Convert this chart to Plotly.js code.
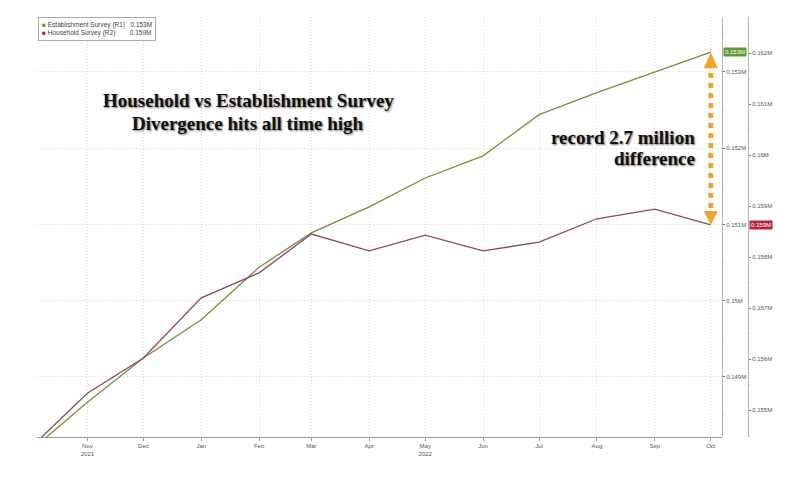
<!DOCTYPE html>
<html>
<head>
<meta charset="utf-8">
<script src="https://cdn.plot.ly/plotly-3.0.1.min.js"></script>
<style>html,body{margin:0;padding:0;background:#fff;}#chart{width:800px;height:489px;}</style>
</head>
<body>
<div id="chart"></div>
<script>
// ---- data (millions, shown as "0.xxxM" like the source) ----
const months = ["2021-10-01","2021-11-01","2021-12-01","2022-01-01","2022-02-01","2022-03-01","2022-04-01","2022-05-01","2022-06-01","2022-07-01","2022-08-01","2022-09-01","2022-10-01"];
const establishment = [0.14802,0.14867,0.14925,0.14975,0.15044,0.15089,0.15123,0.15161,0.15190,0.15244,0.15273,0.15300,0.15326];
const household     = [0.15424,0.15533,0.15602,0.15720,0.15769,0.15845,0.15812,0.15843,0.15812,0.15829,0.15875,0.15894,0.15863];
const tickDates  = ["2021-11-01","2021-12-01","2022-01-01","2022-02-01","2022-03-01","2022-04-01","2022-05-01","2022-06-01","2022-07-01","2022-08-01","2022-09-01","2022-10-01"];
const tickLabels = ["Nov<br>2021","Dec","Jan","Feb","Mar","Apr","May<br>2022","Jun","Jul","Aug","Sep","Oct"];
const estName = "Establishment Survey (R1)";
const hhName  = "Household Survey (R2)";

const r1 = [0.148213, 0.153721];
const r2 = [0.154471, 0.162706];
const GREEN = "#7a8c3a", RED = "#8b4a62", ORANGE = "#eda62a";

const lastE = establishment[establishment.length-1];
const lastH = household[household.length-1];
const lastD = months[months.length-1];
const hInR1 = r1[0] + (lastH - r2[0])/(r2[1]-r2[0])*(r1[1]-r1[0]);
const fmt = v => v.toFixed(3) + "M";

const traces = [
  {x: months, y: establishment, name: estName, type: "scatter", mode: "lines",
   line: {color: GREEN, width: 1.3}, yaxis: "y", showlegend: false},
  {x: months, y: household, name: hhName, type: "scatter", mode: "lines",
   line: {color: RED, width: 1.3}, yaxis: "y2", showlegend: false}
];

const tickFont = {family: "Liberation Sans, DejaVu Sans, sans-serif", size: 6, color: "#555"};
const serif = {family: "Liberation Serif, DejaVu Serif, serif", size: 19, color: "#111",
               weight: "bold", shadow: "1px 1px 2px rgba(0,0,0,0.55)"};

const layout = {
  width: 800, height: 489,
  margin: {l: 0, r: 0, t: 17, b: 52},
  paper_bgcolor: "#fff", plot_bgcolor: "#fff",
  showlegend: false,
  xaxis: {
    type: "date", domain: [37/800, 722/800],
    range: ["2021-10-05", "2022-10-07"],
    tickvals: tickDates, ticktext: tickLabels,
    showgrid: true, gridcolor: "#d6d6d6", griddash: "1px,2px", gridwidth: 1,
    showline: true, linecolor: "#9a9a9a", linewidth: 1,
    ticks: "outside", ticklen: 3, tickcolor: "#9a9a9a",
    tickfont: tickFont, zeroline: false
  },
  yaxis: {
    range: r1, side: "right", anchor: "free", position: 722/800,
    dtick: 0.001, ticksuffix: "M",
    showgrid: true, gridcolor: "#d6d6d6", griddash: "1px,2px",
    showline: true, linecolor: "#b5b5b5", linewidth: 1,
    ticks: "outside", ticklen: 2, tickcolor: "#777",
    minor: {ticks: "outside", ticklen: 1, tickcolor: "#ccc", nticks: 3, showgrid: false},
    tickfont: tickFont, zeroline: false
  },
  yaxis2: {
    range: r2, side: "right", overlaying: "y", anchor: "free", position: 748/800,
    dtick: 0.001, ticksuffix: "M", showgrid: false,
    showline: true, linecolor: "#b5b5b5", linewidth: 1,
    ticks: "outside", ticklen: 2, tickcolor: "#777",
    minor: {ticks: "outside", ticklen: 1, tickcolor: "#ccc", nticks: 3, showgrid: false},
    tickfont: tickFont, zeroline: false
  },
  shapes: [
    {type: "line", xref: "x", yref: "y", x0: lastD, x1: lastD, y0: hInR1 + 0.00022, y1: lastE - 0.00022,
     line: {color: ORANGE, width: 5, dash: "dot"}},
    {type: "path", xref: "x", yref: "y", xsizemode: "pixel", ysizemode: "pixel",
     xanchor: lastD, yanchor: lastE, path: "M0,0 L-7,-16 L7,-16 Z",
     fillcolor: ORANGE, line: {width: 0}},
    {type: "path", xref: "x", yref: "y2", xsizemode: "pixel", ysizemode: "pixel",
     xanchor: lastD, yanchor: lastH, path: "M0,0 L-7,14 L7,14 Z",
     fillcolor: ORANGE, line: {width: 0}}
  ],
  annotations: [
    {xref: "paper", yref: "paper", x: 37/800 + 0.001, y: 1, xanchor: "left", yanchor: "top",
     align: "left", showarrow: false, bgcolor: "#fff", bordercolor: "#aaa", borderwidth: 1, borderpad: 3,
     font: {family: "Liberation Sans, DejaVu Sans, sans-serif", size: 6.5, color: "#444"},
     text: "<span style='color:#5b9b2c'>■</span> " + estName + "   " + fmt(lastE) +
           "<br><span style='color:#a82840'>■</span> " + hhName + "        " + fmt(lastH)},
    {xref: "paper", yref: "paper", x: 248/800, y: (437-101)/420, xanchor: "center", yanchor: "middle",
     showarrow: false, font: serif, text: "Household vs Establishment Survey"},
    {xref: "paper", yref: "paper", x: 248/800, y: (437-123)/420, xanchor: "center", yanchor: "middle",
     showarrow: false, font: serif, text: "Divergence hits all time high"},
    {xref: "paper", yref: "paper", x: 697/800, y: (437-137)/420, xanchor: "right", yanchor: "middle",
     showarrow: false, font: serif, text: "record 2.7 million"},
    {xref: "paper", yref: "paper", x: 697/800, y: (437-158)/420, xanchor: "right", yanchor: "middle",
     showarrow: false, font: serif, text: "difference"},
    {xref: "paper", yref: "y", x: 723/800, y: lastE, xanchor: "left", yanchor: "middle",
     showarrow: false, bgcolor: "#5d9b2e", borderpad: 1,
     font: {family: "Liberation Sans, DejaVu Sans, sans-serif", size: 6, color: "#fff"}, text: fmt(lastE)},
    {xref: "paper", yref: "y2", x: 749/800, y: lastH, xanchor: "left", yanchor: "middle",
     showarrow: false, bgcolor: "#b8243c", borderpad: 1,
     font: {family: "Liberation Sans, DejaVu Sans, sans-serif", size: 6, color: "#fff"}, text: fmt(lastH)}
  ]
};

Plotly.newPlot("chart", traces, layout, {displayModeBar: false, staticPlot: true});
</script>
</body>
</html>
